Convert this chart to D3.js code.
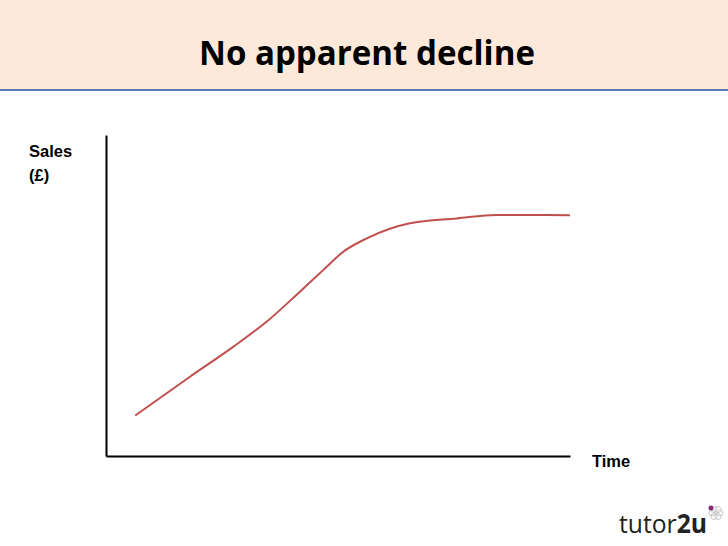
<!DOCTYPE html>
<html lang="en">
<head>
<meta charset="UTF-8">
<title>No apparent decline</title>
<script src="https://cdn.jsdelivr.net/npm/d3@7"></script>
<style>
  html, body { margin: 0; padding: 0; background: #fff; }
</style>
</head>
<body>
<script>
// sales curve (time 0-100, sales 0-100)
var time  = [6.3, 18.1, 27.4, 34.6, 41.8, 46.8, 51.1, 56.2, 65.5, 75.6, 84.2, 100];
var sales = [12.6, 24.7, 34.0, 41.8, 51.2, 57.9, 63.6, 67.8, 72.5, 74.0, 75.1, 75.0];
var title = "No apparent decline";
var yLabel = ["Sales", "(£)"];
var xLabel = "Time";

var width = 728, height = 546;
var svg = d3.select("body").append("svg").attr("width", width).attr("height", height);

// header band
svg.append("rect").attr("x", 0).attr("y", 0).attr("width", width).attr("height", 90).attr("fill", "#fde9d9");
svg.append("line").attr("x1", 0).attr("x2", width).attr("y1", 90).attr("y2", 90)
    .attr("stroke", "#5b7fb0").attr("stroke-width", 2);
svg.append("text").attr("x", 367).attr("y", 65).attr("text-anchor", "middle")
    .attr("font-family", "Open Sans, sans-serif").attr("font-weight", 700).attr("font-size", 34)
    .attr("textLength", 336).attr("lengthAdjust", "spacingAndGlyphs")
    .attr("fill", "#000").text(title);

var x = d3.scaleLinear().domain([0, 100]).range([106, 570]);
var y = d3.scaleLinear().domain([0, 100]).range([456, 135]);

svg.append("g").attr("transform", "translate(106,0)")
    .call(d3.axisLeft(y).tickValues([]).tickSizeOuter(0))
    .select(".domain").attr("stroke", "#000").attr("stroke-width", 2);
svg.append("g").attr("transform", "translate(0,456)")
    .call(d3.axisBottom(x).tickValues([]).tickSizeOuter(0))
    .select(".domain").attr("stroke", "#000").attr("stroke-width", 2);

var pts = time.map(function(t, i) { return [t, sales[i]]; });
var line = d3.line().x(function(d) { return x(d[0]); }).y(function(d) { return y(d[1]); })
    .curve(d3.curveMonotoneX);
svg.append("path").datum(pts).attr("d", line)
    .attr("fill", "none").attr("stroke", "#c0504d").attr("stroke-width", 2);

// axis labels
svg.selectAll(".ylab").data(yLabel).enter().append("text")
    .attr("x", 29).attr("y", function(d, i) { return 157 + i * 24; })
    .attr("font-family", "Liberation Sans, Arial, sans-serif").attr("font-weight", 700).attr("font-size", 16.5)
    .text(function(d) { return d; });
svg.append("text").attr("x", 592).attr("y", 467)
    .attr("font-family", "Liberation Sans, Arial, sans-serif").attr("font-weight", 700).attr("font-size", 16.5)
    .text(xLabel);

// tutor2u logo
var logo = svg.append("text").attr("x", 619).attr("y", 533)
    .attr("font-family", "Open Sans, sans-serif").attr("font-size", 26).attr("fill", "#222")
    .attr("textLength", 88).attr("lengthAdjust", "spacingAndGlyphs");
logo.append("tspan").text("tutor");
logo.append("tspan").attr("font-weight", 700).text("2u");
var flower = svg.append("g").attr("transform", "translate(716,513)");
d3.range(6).forEach(function(k) {
    var a = k * Math.PI / 3;
    flower.append("circle").attr("cx", 4 * Math.cos(a)).attr("cy", 4 * Math.sin(a)).attr("r", 3)
        .attr("fill", "none").attr("stroke", "#c9c9c9").attr("stroke-width", 1);
});
flower.append("circle").attr("cx", -5).attr("cy", -5).attr("r", 2.5).attr("fill", "#8b2a7e");
</script>
</body>
</html>
